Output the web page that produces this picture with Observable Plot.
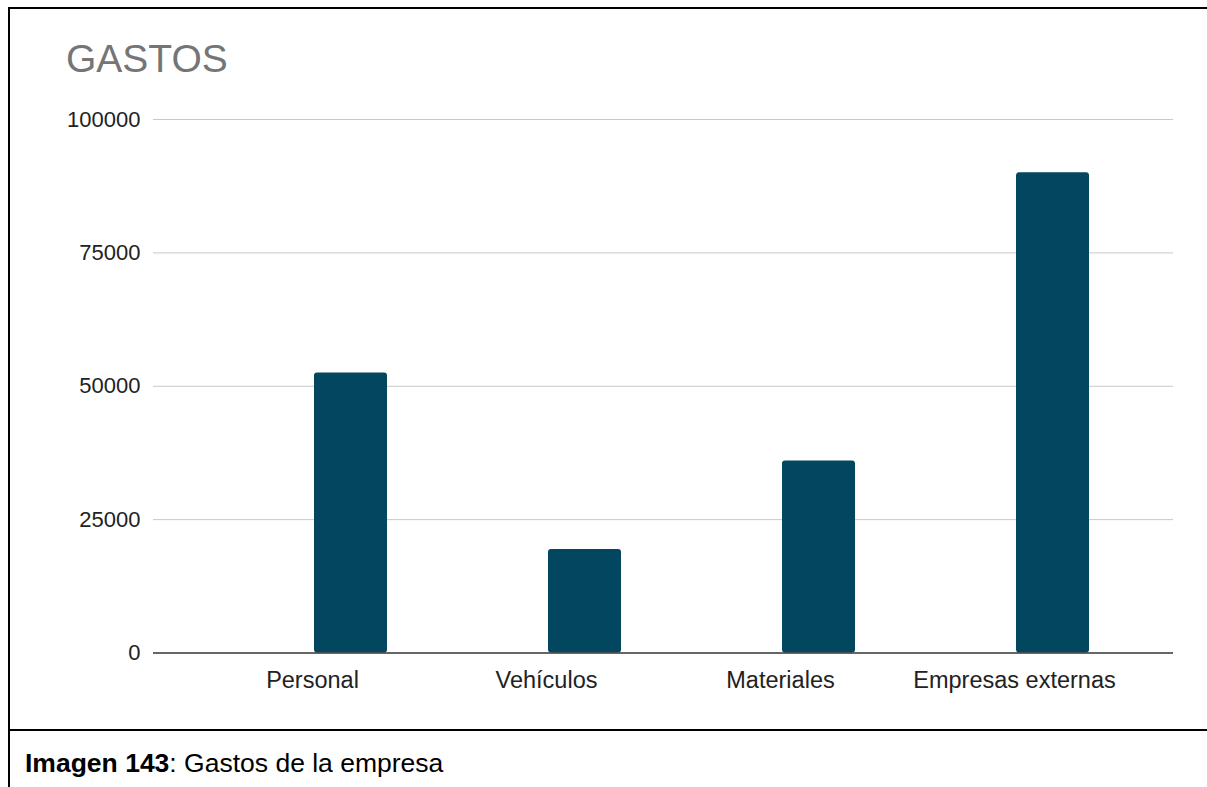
<!DOCTYPE html>
<html>
<head>
<meta charset="utf-8">
<script src="https://cdn.jsdelivr.net/npm/d3@7"></script>
<script src="https://cdn.jsdelivr.net/npm/@observablehq/plot@0.6"></script>
<style>
  html, body { margin: 0; padding: 0; background: #fff; }
  body { width: 1207px; height: 787px; position: relative; overflow: hidden; font-family: "Liberation Sans", Arial, sans-serif; }
  #chart { position: absolute; left: 0; top: 0; }
  #chart g[aria-label^="x-axis"] { font-size: 23.5px; }
  #frame { position: absolute; left: 8px; top: 7px; width: 1199px; height: 780px; border-left: 2px solid #000; border-top: 2px solid #000; box-sizing: border-box; pointer-events: none; }
  #sep { position: absolute; left: 8px; top: 729px; width: 1199px; height: 0; border-top: 2px solid #000; }
  #title { position: absolute; left: 66px; top: 38.8px; font-size: 39px; line-height: 39px; color: #757575; white-space: nowrap; }
  #caption { position: absolute; left: 25px; top: 749.7px; font-size: 26.5px; line-height: 26.5px; color: #000; white-space: nowrap; }
</style>
</head>
<body>
<div id="chart"></div>
<div id="title">GASTOS</div>
<div id="frame"></div>
<div id="sep"></div>
<div id="caption"><b>Imagen 143</b>: Gastos de la empresa</div>
<script>
const categories = ["Personal", "Vehículos", "Materiales", "Empresas externas"];
const gastos = [52500, 19400, 36000, 90000];
const yTicks = [0, 25000, 50000, 75000, 100000];
const gridTicks = [25000, 50000, 75000, 100000];

const data = categories.map((c, i) => ({categoria: c, gasto: gastos[i]}));

const chart = Plot.plot({
  width: 1207,
  height: 730,
  marginLeft: 153,
  marginRight: 34,
  marginTop: 119,
  marginBottom: 77.5,
  style: {fontSize: "22px", fontFamily: "'Liberation Sans', Arial, sans-serif", color: "#222", background: "transparent"},
  x: {domain: categories, paddingInner: 0.36, paddingOuter: 0.355, tickSize: 0, tickPadding: 18, label: null},
  y: {domain: [0, 100000], ticks: yTicks, tickSize: 0, tickPadding: 13, label: null, tickFormat: d3.format("d")},
  marks: [
    Plot.ruleY(gridTicks, {stroke: "#c8c8c8", strokeWidth: 1}),
    Plot.barY(data, {x: "categoria", y: "gasto", fill: "#02465f", insetLeft: 77, insetRight: 0, rx: 3}),
    Plot.ruleY([0], {stroke: "#333333", strokeWidth: 1.5})
  ]
});
document.getElementById("chart").appendChild(chart);
</script>
</body>
</html>
